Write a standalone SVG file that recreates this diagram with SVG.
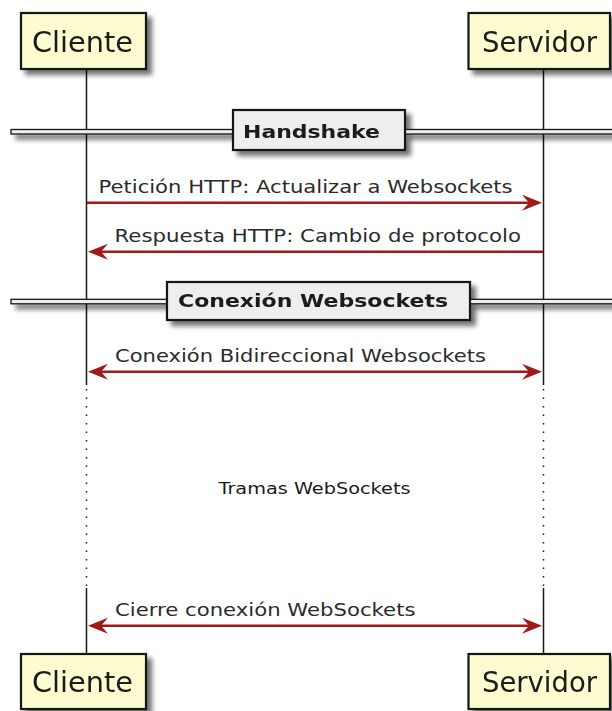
<svg xmlns="http://www.w3.org/2000/svg" width="612" height="711" viewBox="0 0 612 711">
<defs>
<filter id="sh" x="-10%" y="-20%" width="130%" height="160%">
<feGaussianBlur in="SourceAlpha" stdDeviation="2.5"/>
<feOffset dx="5" dy="5" result="o"/>
<feComponentTransfer><feFuncA type="linear" slope="0.55"/></feComponentTransfer>
<feMerge><feMergeNode/><feMergeNode in="SourceGraphic"/></feMerge>
</filter>
<marker id="ah" viewBox="0 0 20 16" refX="14" refY="8" markerWidth="20" markerHeight="16" markerUnits="userSpaceOnUse" orient="auto-start-reverse">
<path d="M0,0 L20,8 L0,16 L7,8 Z" fill="#A01818"/>
</marker>
</defs>
<style>
.part{fill:#FCFCD0;stroke:#181818;stroke-width:2.2}
.ptxt{font-family:"DejaVu Sans",sans-serif;font-size:28px;fill:#1a1a1a}
.life{stroke:#181818;stroke-width:1.5;fill:none}
.dots{stroke:#181818;stroke-width:1.5;stroke-dasharray:1.5,7;fill:none}
.divbox{fill:#EEEEEE;stroke:#181818;stroke-width:2.2}
.divline{fill:#EEEEEE;stroke:#181818;stroke-width:1.3}
.divtxt{font-family:"DejaVu Sans",sans-serif;font-weight:bold;font-size:17.5px;fill:#1a1a1a}
.msg{stroke:#A01818;stroke-width:2.4;fill:none}
.mtxt{font-family:"DejaVu Sans",sans-serif;font-size:18px;fill:#2a2a2a}
.note{font-family:"DejaVu Sans",sans-serif;font-size:15.5px;fill:#1a1a1a}
</style>
<rect width="612" height="711" fill="#fff"/>
<g id="lifelines">
<path class="life" d="M86.5,69 V385 M86.5,588 V654 M543.5,69 V385 M543.5,588 V654"/>
<path class="dots" d="M86.5,389 V588 M543.5,389 V588"/>
</g>
<g id="div-handshake" filter="url(#sh)">
<rect class="divline" x="11" y="129.5" width="610" height="4.5"/>
<rect class="divbox" x="233" y="110" width="172" height="40"/>
<text class="divtxt" x="243" y="137.5" textLength="137" lengthAdjust="spacingAndGlyphs">Handshake</text>
</g>
<g id="div-conexion" filter="url(#sh)">
<rect class="divline" x="11" y="299.3" width="610" height="4.5"/>
<rect class="divbox" x="167" y="282" width="303" height="38"/>
<text class="divtxt" x="178" y="306.5" textLength="270" lengthAdjust="spacingAndGlyphs">Conexión Websockets</text>
</g>
<g id="cliente-top" filter="url(#sh)">
<rect class="part" x="21" y="13" width="125" height="56"/>
<text class="ptxt" x="32" y="52" textLength="101" lengthAdjust="spacingAndGlyphs">Cliente</text>
</g>
<g id="servidor-top" filter="url(#sh)">
<rect class="part" x="468.5" y="13" width="141.5" height="56"/>
<text class="ptxt" x="482" y="52" textLength="115" lengthAdjust="spacingAndGlyphs">Servidor</text>
</g>
<g id="cliente-bottom" filter="url(#sh)">
<rect class="part" x="21" y="654" width="125" height="55"/>
<text class="ptxt" x="32" y="692" textLength="101" lengthAdjust="spacingAndGlyphs">Cliente</text>
</g>
<g id="servidor-bottom" filter="url(#sh)">
<rect class="part" x="468.5" y="654" width="141.5" height="55"/>
<text class="ptxt" x="482" y="692" textLength="115" lengthAdjust="spacingAndGlyphs">Servidor</text>
</g>
<g id="connectors">
<line class="msg" x1="87" y1="202.7" x2="536" y2="202.7" marker-end="url(#ah)"/>
<line class="msg" x1="543" y1="251.7" x2="94" y2="251.7" marker-end="url(#ah)"/>
<line class="msg" x1="94" y1="371.7" x2="536" y2="371.7" marker-start="url(#ah)" marker-end="url(#ah)"/>
<line class="msg" x1="94" y1="625.7" x2="536" y2="625.7" marker-start="url(#ah)" marker-end="url(#ah)"/>
</g>
<g id="labels">
<text class="mtxt" x="98.5" y="192.7" textLength="414" lengthAdjust="spacingAndGlyphs">Petición HTTP: Actualizar a Websockets</text>
<text class="mtxt" x="114.5" y="241.7" textLength="406.5" lengthAdjust="spacingAndGlyphs">Respuesta HTTP: Cambio de protocolo</text>
<text class="mtxt" x="115" y="361.7" textLength="371" lengthAdjust="spacingAndGlyphs">Conexión Bidireccional Websockets</text>
<text class="mtxt" x="115" y="616" textLength="300.5" lengthAdjust="spacingAndGlyphs">Cierre conexión WebSockets</text>
</g>
<g id="tramas">
<text class="note" x="218.5" y="494" textLength="192" lengthAdjust="spacingAndGlyphs">Tramas WebSockets</text>
</g>
</svg>
